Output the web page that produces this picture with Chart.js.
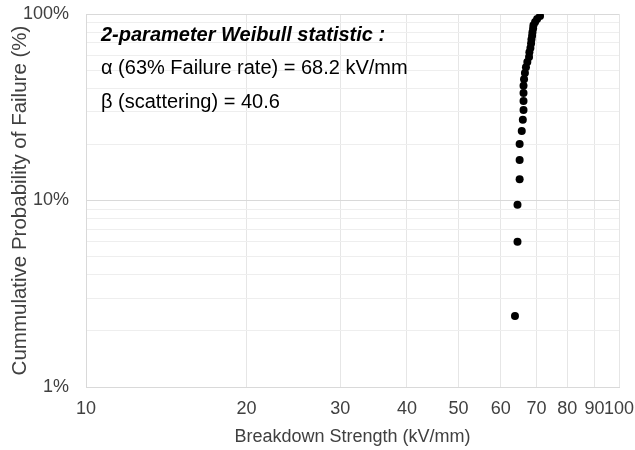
<!DOCTYPE html>
<html>
<head>
<meta charset="utf-8">
<script src="https://cdn.jsdelivr.net/npm/chart.js@4"></script>
<style>
  body { margin: 0; background: #fff; }
  #wrap { width: 635px; height: 450px; }
</style>
</head>
<body>
<div id="wrap"><canvas id="grafico" width="635" height="450"></canvas></div>
<script>
// Breakdown strength (kV/mm) and cumulative failure probability (%)
const strength = [63.8, 64.5, 64.5, 65.1, 65.1, 65.1, 65.7, 66.0, 66.2, 66.2, 66.2, 66.2, 66.35, 66.6,
                  66.9, 67.3, 67.8, 67.9, 68.2, 68.4, 68.5, 68.7, 68.8, 69.0, 69.1, 69.6, 70.2, 71.1];
const probability = [2.4, 6.0, 9.5, 13.0, 16.5, 20.1, 23.6, 27.1, 30.6, 34.2, 37.7, 41.2, 44.7, 48.2,
                     51.8, 55.3, 58.8, 62.3, 65.8, 69.4, 72.9, 76.4, 79.9, 83.5, 87.0, 90.5, 94.0, 97.5];
const xTicks = [10, 20, 30, 40, 50, 60, 70, 80, 90, 100];
const yTicks = [1, 2, 3, 4, 5, 6, 7, 8, 9, 10, 20, 30, 40, 50, 60, 70, 80, 90, 100];
const yLabels = [1, 10, 100];
const notes = [
  '2-parameter Weibull statistic :',
  'α (63% Failure rate) = 68.2 kV/mm',
  'β (scattering) = 40.6'
];

const fonte = '"Liberation Sans", Arial, sans-serif';

const textoWeibull = {
  id: 'textoWeibull',
  afterDraw(chart) {
    const ctx = chart.ctx;
    ctx.save();
    ctx.fillStyle = '#000';
    ctx.textBaseline = 'middle';
    ctx.textAlign = 'left';
    const x = chart.chartArea.left + 15;
    notes.forEach((t, i) => {
      ctx.font = (i === 0 ? 'bold italic ' : '') + '20px ' + fonte;
      ctx.fillText(t, x, chart.chartArea.top + 21 + i * 33.5);
    });
    ctx.restore();
  }
};

const pontos = strength.map((v, i) => ({ x: v, y: probability[i] }));

new Chart(document.getElementById('grafico').getContext('2d'), {
  type: 'scatter',
  data: {
    datasets: [{
      data: pontos,
      backgroundColor: '#000',
      borderColor: '#000',
      borderWidth: 0,
      pointRadius: 4,
      pointHoverRadius: 4
    }]
  },
  options: {
    responsive: false,
    animation: false,
    layout: { autoPadding: false, padding: { top: 14, right: 16, left: 0, bottom: 0 } },
    plugins: { legend: { display: false }, tooltip: { enabled: false } },
    scales: {
      x: {
        type: 'logarithmic',
        min: 10, max: 100,
        afterFit(s) { s.height = 63; s.paddingLeft = 0; s.paddingRight = 0; },
        afterBuildTicks(s) { s.ticks = xTicks.map(v => ({ value: v })); },
        grid: { color: '#e6e6e6', drawTicks: false },
        border: { color: '#d9d9d9' },
        ticks: {
          autoSkip: false, maxRotation: 0, padding: 11,
          color: '#404040', font: { family: fonte, size: 18 },
          callback: v => String(v)
        },
        title: {
          display: true, text: 'Breakdown Strength (kV/mm)',
          color: '#404040', font: { family: fonte, size: 18 },
          padding: { top: 0, bottom: 2 }
        }
      },
      y: {
        type: 'logarithmic',
        min: 1, max: 100,
        afterFit(s) { s.width = 86; s.paddingTop = 0; s.paddingBottom = 0; },
        afterBuildTicks(s) { s.ticks = yTicks.map(v => ({ value: v })); },
        grid: {
          color: c => yLabels.includes(c.tick && c.tick.value) ? '#d9d9d9' : '#eeeeee',
          drawTicks: false
        },
        border: { color: '#d9d9d9' },
        ticks: {
          autoSkip: false, padding: 17,
          color: '#404040', font: { family: fonte, size: 18 },
          callback: v => yLabels.includes(v) ? v + '%' : ''
        },
        title: {
          display: true, text: 'Cummulative Probability of Failure (%)',
          color: '#404040', font: { family: fonte, size: 20.5 },
          padding: { top: 8, bottom: 0 }
        }
      }
    }
  },
  plugins: [textoWeibull]
});
</script>
</body>
</html>
